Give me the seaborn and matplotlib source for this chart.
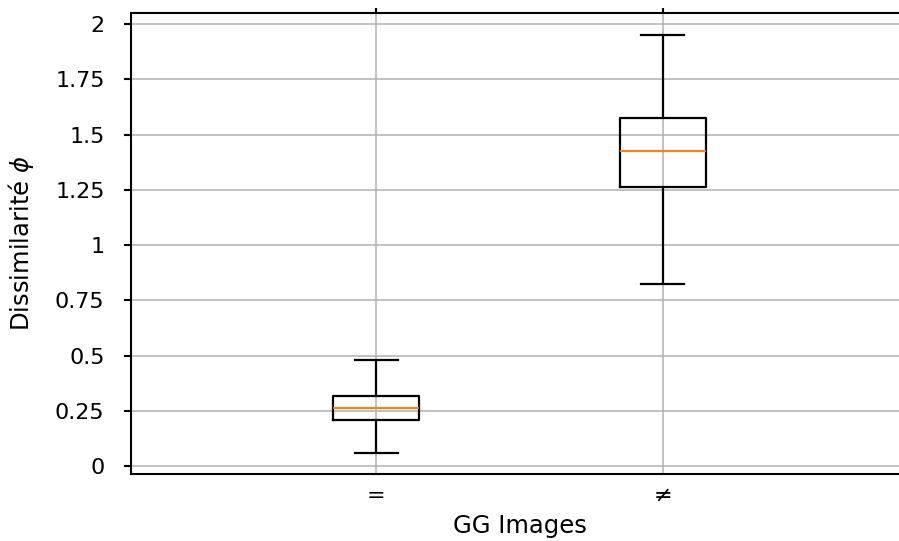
import numpy as np
import pandas as pd
import matplotlib
matplotlib.use("Agg")
import matplotlib.pyplot as plt
import seaborn as sns

categories = ["=", "≠"]
whisker_low = [0.059, 0.824]
q1 = [0.208, 1.262]
median = [0.262, 1.425]
q3 = [0.317, 1.575]
whisker_high = [0.480, 1.950]
yticks = [0, 0.25, 0.5, 0.75, 1.0, 1.25, 1.5, 1.75, 2.0]
ytick_labels = ["0", "0.25", "0.5", "0.75", "1", "1.25", "1.5", "1.75", "2"]

rows = []
for c, lo, a, m, b, hi in zip(categories, whisker_low, q1, median, q3, whisker_high):
    for v in (lo, a, m, b, hi):
        rows.append({"group": c, "value": v})
df = pd.DataFrame(rows)

plt.rcParams["font.family"] = ["DejaVu Sans"]
fig = plt.figure(figsize=(8.99, 5.41), dpi=100)
ax = fig.add_axes([131 / 899, 67 / 541, 777 / 899, 461 / 541])

sns.boxplot(data=df, x="group", y="value", order=categories, whis=(0, 100),
            width=0.3, fill=False, color="black", linewidth=1.6,
            medianprops={"color": "#ff7f0e", "linewidth": 1.5},
            showfliers=False, ax=ax)

ax.set_xlim(-0.854, 1.854)
ax.set_ylim(-0.036, 2.05)
ax.set_yticks(yticks)
ax.set_yticklabels(ytick_labels, fontsize=16)
ax.set_xticks([0, 1])
ax.set_xticklabels(categories, fontsize=16)
ax.grid(True, color="#b0b0b0", linewidth=1.1)
ax.set_axisbelow(True)
for s in ax.spines.values():
    s.set_linewidth(1.5)
    s.set_color("black")
ax.tick_params(axis="y", length=5, width=1.5, pad=14)
ax.tick_params(axis="x", top=True, bottom=False, length=3.5, width=1.5, pad=5)
ax.set_xlabel("GG Images", fontsize=17.5, labelpad=6)
ax.set_ylabel("Dissimilarité $\\phi$", fontsize=17.5, labelpad=14)

fig.savefig("out.png", dpi=100)
